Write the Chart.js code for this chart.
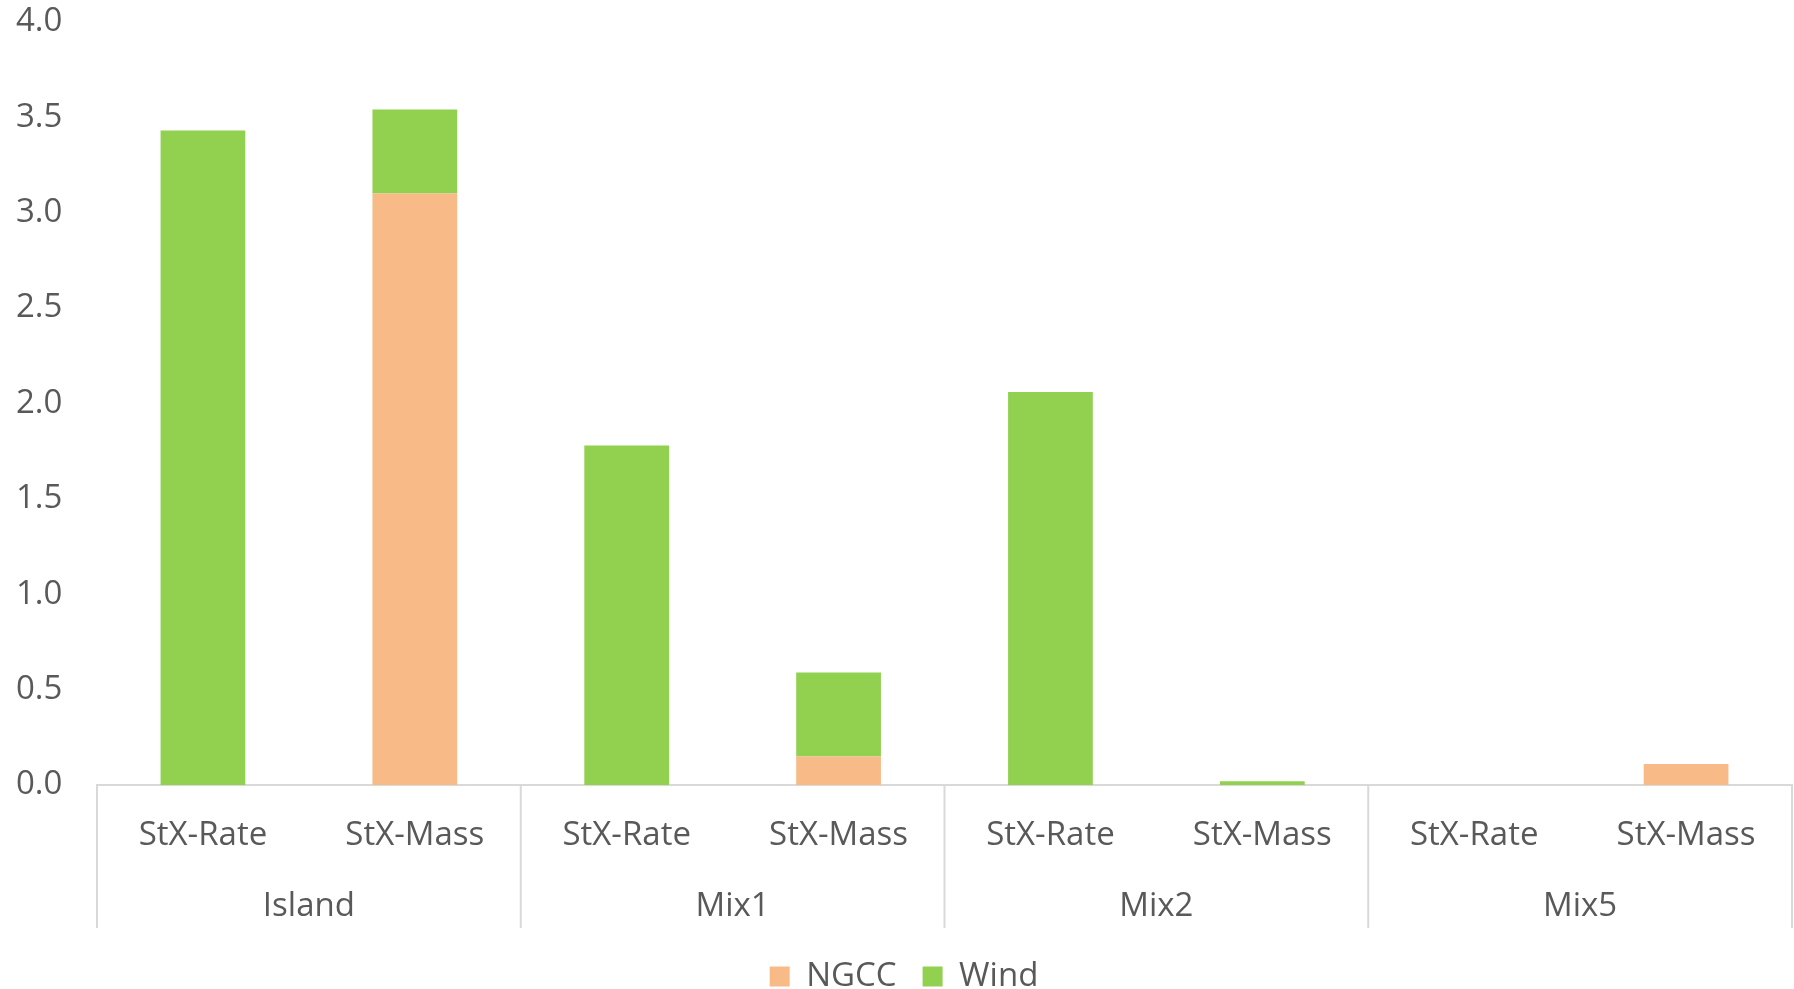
<!DOCTYPE html>
<html>
<head>
<meta charset="utf-8">
<script src="https://cdn.jsdelivr.net/npm/chart.js@4"></script>
<style>
    html, body { margin: 0; padding: 0; background: #ffffff; }
    #wrap { width: 1794px; height: 989px; position: relative; }
</style>
</head>
<body>
<div id="wrap"><canvas id="stackChart"></canvas></div>
<script>
// Chart data
const categories = ['StX-Rate', 'StX-Mass', 'StX-Rate', 'StX-Mass', 'StX-Rate', 'StX-Mass', 'StX-Rate', 'StX-Mass'];
const groups = ['Island', 'Mix1', 'Mix2', 'Mix5'];
const ngccValues = [0, 3.10, 0, 0.15, 0, 0, 0, 0.11];
const windValues = [3.43, 0.44, 1.78, 0.44, 2.06, 0.02, 0, 0];
const yTicks = [0, 0.5, 1.0, 1.5, 2.0, 2.5, 3.0, 3.5, 4.0];

const textColor = '#595959';
const lineColor = '#d9d9d9';
const fontFamily = '"Open Sans", "Noto Sans", sans-serif';
const dividerDepth = 58;

// Draws the group separators below the axis (Excel multi-level category look)
const groupDividers = {
    id: 'groupDividers',
    afterDraw(chart) {
        const x = chart.scales.x;
        const x2 = chart.scales.x2;
        const perGroup = categories.length / groups.length;
        const ctx = chart.ctx;
        ctx.save();
        ctx.strokeStyle = lineColor;
        ctx.lineWidth = 2;
        for (let g = 0; g <= groups.length; g++) {
            const i = g * perGroup;
            let px;
            if (i === 0) px = x.left;
            else if (i === categories.length) px = x.right;
            else px = (x.getPixelForValue(i - 1) + x.getPixelForValue(i)) / 2;
            ctx.beginPath();
            ctx.moveTo(px, chart.chartArea.bottom);
            ctx.lineTo(px, x2.top + dividerDepth);
            ctx.stroke();
        }
        ctx.restore();
    }
};

new Chart(document.getElementById('stackChart'), {
    type: 'bar',
    data: {
        labels: categories,
        datasets: [{
            label: 'NGCC',
            data: ngccValues,
            backgroundColor: '#f8bb87',
            borderWidth: 0,
            xAxisID: 'x'
        }, {
            label: 'Wind',
            data: windValues,
            backgroundColor: '#92d050',
            borderWidth: 0,
            xAxisID: 'x'
        }]
    },
    options: {
        responsive: true,
        maintainAspectRatio: false,
        animation: false,
        barPercentage: 0.4,
        categoryPercentage: 1,
        layout: { padding: { top: 0, right: 2, left: 16, bottom: 0 } },
        scales: {
            y: {
                stacked: true,
                min: 0,
                max: 4,
                afterBuildTicks: s => { s.ticks = yTicks.map(v => ({ value: v })); },
                afterFit: s => { s.width = 81; },
                grid: { display: false, drawTicks: false },
                border: { display: false },
                ticks: {
                    padding: 2,
                    crossAlign: 'far',
                    color: textColor,
                    font: { family: fontFamily, size: 33 },
                    callback: v => Number(v).toFixed(1)
                }
            },
            x: {
                stacked: true,
                position: 'bottom',
                afterFit: s => { s.height = 85; },
                grid: { display: false, drawTicks: false },
                border: { display: true, color: lineColor, width: 2 },
                ticks: {
                    padding: 31,
                    autoSkip: false,
                    maxRotation: 0,
                    color: textColor,
                    font: { family: fontFamily, size: 33 }
                }
            },
            x2: {
                type: 'category',
                position: 'bottom',
                labels: groups,
                offset: true,
                afterFit: s => { s.height = 64; },
                grid: { display: false, drawTicks: false },
                border: { display: false },
                ticks: {
                    padding: 17,
                    autoSkip: false,
                    maxRotation: 0,
                    color: textColor,
                    font: { family: fontFamily, size: 33 }
                }
            }
        },
        plugins: {
            legend: {
                position: 'bottom',
                maxHeight: 55,
                labels: {
                    boxWidth: 20,
                    boxHeight: 20,
                    padding: 26,
                    color: textColor,
                    font: { family: fontFamily, size: 33 }
                }
            },
            tooltip: { enabled: false }
        }
    },
    plugins: [groupDividers]
});
</script>
</body>
</html>
